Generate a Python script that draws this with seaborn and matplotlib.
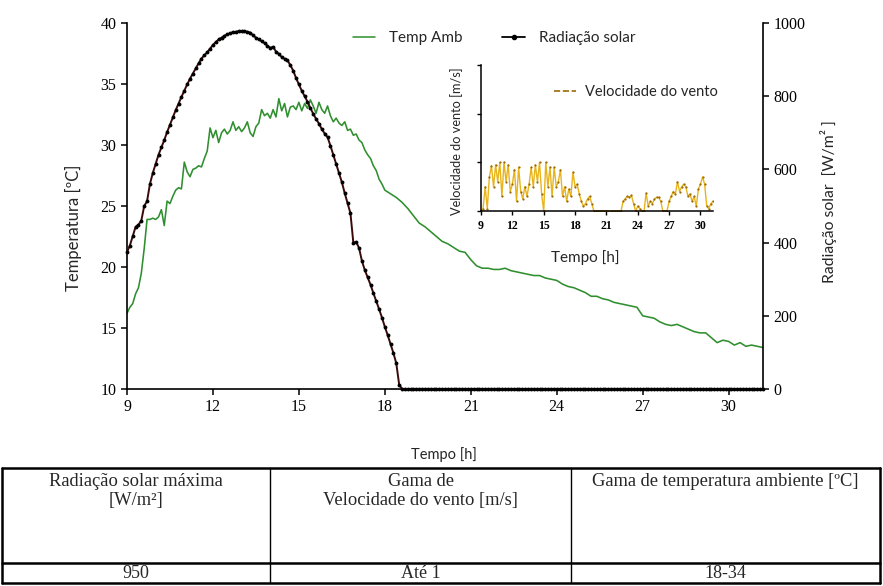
import numpy as np
import pandas as pd
import matplotlib
matplotlib.use('Agg')
import matplotlib.pyplot as plt
from matplotlib.lines import Line2D
import seaborn as sns

# ---------------- data ----------------
# ambient temperature [ºC]: 9.0-17.9 h every 0.1 h, then 18.0-31.2 h every 0.2 h
temp_day = [16.2, 16.7, 17.0, 17.8, 18.3, 19.5, 21.5, 23.9, 23.9, 24.0,
            23.9, 24.1, 24.7, 23.4, 25.4, 25.2, 25.8, 26.3, 26.5, 26.4,
            28.6, 27.8, 27.4, 28.0, 28.1, 28.3, 28.2, 28.9, 29.5, 31.4,
            30.6, 31.2, 30.2, 31.0, 31.3, 30.9, 31.2, 31.9, 31.2, 31.5,
            31.1, 31.4, 31.9, 31.0, 30.7, 31.5, 31.8, 32.9, 32.4, 32.6,
            32.2, 32.9, 32.3, 33.8, 32.8, 33.4, 32.3, 33.1, 33.2, 32.9,
            33.5, 32.8, 33.4, 33.0, 33.7, 33.2, 32.6, 33.5, 32.9, 32.6,
            33.2, 32.4, 31.9, 32.2, 31.8, 31.6, 31.9, 31.2, 31.3, 30.8,
            30.9, 30.4, 30.2, 29.6, 29.2, 28.9, 28.3, 27.9, 27.2, 26.8]
temp_eve = [26.3, 26.0, 25.7, 25.3, 24.8, 24.2, 23.6, 23.3, 22.9, 22.5,
            22.1, 21.9, 21.6, 21.3, 21.2, 20.6, 20.1, 19.9, 19.9, 19.8,
            19.8, 19.9, 19.7, 19.6, 19.5, 19.4, 19.3, 19.3, 19.1, 19.0,
            18.9, 18.6, 18.4, 18.3, 18.1, 17.9, 17.6, 17.6, 17.4, 17.3,
            17.1, 17.0, 16.9, 16.8, 16.7, 16.0, 15.9, 15.8, 15.5, 15.3,
            15.2, 15.3, 15.1, 14.9, 14.7, 14.6, 14.6, 14.2, 13.8, 14.0,
            13.9, 13.6, 13.8, 13.5, 13.6, 13.5, 13.4]

# solar radiation [W/m²]: every 0.1 h from 9.0 h
rad_day = [374, 392, 418, 443, 449, 460, 500, 513, 560, 590,
           615, 640, 660, 680, 702, 722, 742, 762, 780, 798,
           815, 832, 848, 862, 876, 890, 903, 912, 920, 930,
           940, 948, 955, 960, 965, 969, 972, 975, 976, 978,
           977, 978, 976, 974, 966, 960, 955, 950, 945, 938,
           932, 935, 922, 915, 907, 902, 898, 885, 870, 850,
           832, 815, 800, 785, 768, 752, 738, 725, 710, 698,
           688, 665, 640, 615, 590, 565, 535, 508, 480, 400,
           402, 385, 350, 325, 305, 285, 262, 240, 218, 195,
           170, 147, 122, 98, 70, 12]
rad_night = [0, 0, 0, 0, 0, 0, 0, 0, 0, 0,
             0, 0, 0, 0, 0, 0, 0, 0, 0, 0,
             0, 0, 0, 0, 0, 0, 0, 0, 0, 0,
             0, 0, 0, 0, 0, 0, 0, 0, 0, 0,
             0, 0, 0, 0, 0, 0, 0, 0, 0, 0,
             0, 0, 0, 0, 0, 0, 0, 0, 0, 0,
             0, 0, 0, 0, 0, 0, 0, 0, 0, 0,
             0, 0, 0, 0, 0, 0, 0, 0, 0, 0,
             0, 0, 0, 0, 0, 0, 0, 0, 0, 0,
             0, 0, 0, 0, 0, 0, 0, 0, 0, 0,
             0, 0, 0, 0, 0, 0, 0, 0, 0, 0,
             0, 0, 0, 0, 0, 0, 0, 0, 0, 0,
             0, 0, 0, 0, 0, 0, 0]

# wind speed [m/s]: every 0.2 h from 9.0 h
wind = [0.0, 0.05, 0.5, 0.05, 0.7, 0.93, 0.5, 0.95, 0.6, 1.0,
        0.3, 1.0, 0.6, 0.95, 0.4, 0.55, 0.85, 0.2, 0.9, 0.4,
        0.25, 0.5, 0.3, 0.55, 0.9, 0.5, 0.95, 0.6, 1.0, 0.35,
        0.0, 1.0, 0.5, 0.9, 0.3, 0.9, 0.5, 0.6, 0.85, 0.3,
        0.5, 0.2, 0.45, 0.3, 0.8, 0.5, 0.55, 0.35, 0.2, 0.1,
        0.15, 0.25, 0.3, 0.15, 0.0, 0.0, 0.0, 0.0, 0.0, 0.0,
        0.0, 0.0, 0.0, 0.0, 0.0, 0.0, 0.0, 0.0, 0.2, 0.25,
        0.3, 0.28, 0.32, 0.15, 0.0, 0.1, 0.05, 0.0, 0.0, 0.37,
        0.1, 0.2, 0.15, 0.25, 0.28, 0.28, 0.2, 0.0, 0.0, 0.0,
        0.2, 0.3, 0.4, 0.35, 0.6, 0.4, 0.5, 0.55, 0.5, 0.3,
        0.35, 0.2, 0.3, 0.1, 0.45, 0.55, 0.7, 0.55, 0.1, 0.05,
        0.15, 0.2]

x_ticks = [9, 12, 15, 18, 21, 24, 27, 30]
temp_ticks = [10, 15, 20, 25, 30, 35, 40]
rad_ticks = [0, 200, 400, 600, 800, 1000]
wind_ticks = [0, 1, 2, 3]

table_header = ["Radiação solar máxima\n[W/m²]",
                "Gama de\nVelocidade do vento [m/s]",
                "Gama de temperatura ambiente [ºC]"]
table_values = ["950", "Até 1", "18-34"]

# ---------------- build frames ----------------
t_temp = np.concatenate([9.0 + 0.1 * np.arange(len(temp_day)),
                         18.0 + 0.2 * np.arange(len(temp_eve))])
df_temp = pd.DataFrame({'t': t_temp, 'v': temp_day + temp_eve})
rad = rad_day + rad_night
df_rad = pd.DataFrame({'t': 9.0 + 0.1 * np.arange(len(rad)), 'v': rad})
df_wind = pd.DataFrame({'t': 9.0 + 0.2 * np.arange(len(wind)), 'v': wind})

# ---------------- style ----------------
sns.set_style('ticks')
plt.rcParams['font.family'] = ['Lato', 'DejaVu Sans']
SERIF = 'Liberation Serif'
GREEN = '#2f8f2f'
RAD_LINE = '#3a0a0a'
WIND = '#e8b41c'
WIND_DARK = '#9a6a08'

W, H = 883, 586
fig = plt.figure(figsize=(W / 100, H / 100), dpi=100)


def fx(px):
    return px / W


def fy(py):
    return 1 - py / H


# ---------------- main axes ----------------
ax = fig.add_axes([fx(127), fy(389), fx(763) - fx(127), fy(23) - fy(389)])
ax.set_facecolor('none')
ax2 = ax.twinx()

sns.lineplot(data=df_temp, x='t', y='v', ax=ax, color=GREEN, lw=1.15,
             estimator=None, legend=False)
sns.lineplot(data=df_rad, x='t', y='v', ax=ax2, color=RAD_LINE, lw=1.4,
             marker='o', markersize=2.8, markerfacecolor='black',
             markeredgecolor='black', markeredgewidth=0,
             estimator=None, legend=False, clip_on=False)

ax.set_xlim(9, 31.2)
ax.set_ylim(10, 40)
ax2.set_ylim(0, 1000)
ax.set_xticks(x_ticks)
ax.set_yticks(temp_ticks)
ax2.set_yticks(rad_ticks)

for s in ['top', 'right']:
    ax.spines[s].set_visible(False)
for s in ['top', 'left', 'bottom']:
    ax2.spines[s].set_visible(False)
for a in (ax, ax2):
    for s in a.spines.values():
        s.set_linewidth(1.2)
        s.set_color('black')
    a.tick_params(direction='out', length=4, width=1.1, labelsize=11.5,
                  labelfontfamily=SERIF, colors='black')

ax.set_xlabel('Tempo [h]', fontsize=10.5)
ax.xaxis.set_label_coords((444 - 127) / 636, -(447 - 389) / 366)
ax.set_ylabel('Temperatura [ºC]', fontsize=12)
ax.yaxis.set_label_coords((82 - 127) / 636, (389 - 228) / 366)
ax2.set_ylabel('Radiação solar  [W/m² ]', fontsize=11.3)
ax2.yaxis.set_label_coords((820 - 127) / 636, (389 - 202) / 366)

handles = [Line2D([], [], color=GREEN, lw=1.1),
           Line2D([], [], color='black', lw=1.3, marker='o', markersize=3)]
ax2.legend(handles, ['Temp Amb', 'Radiação solar'], loc='center left',
           bbox_to_anchor=(0.345, 0.958), ncol=2, frameon=False,
           fontsize=11, handlelength=1.5, columnspacing=2.6,
           handletextpad=0.9, borderaxespad=0)

# ---------------- inset ----------------
iax = fig.add_axes([fx(481), fy(211), fx(713) - fx(481), fy(65) - fy(211)])
iax.set_facecolor('none')
sns.lineplot(data=df_wind, x='t', y='v', ax=iax, color=WIND, lw=1.0,
             marker='o', markersize=1.6, markerfacecolor=WIND_DARK,
             markeredgecolor=WIND_DARK, markeredgewidth=0,
             estimator=None, legend=False)
iax.set_xlim(9, 31.2)
iax.set_ylim(0, 3)
iax.set_xticks(x_ticks)
iax.set_yticks(wind_ticks)
iax.set_yticklabels([])
for s in ['top', 'right']:
    iax.spines[s].set_visible(False)
for s in iax.spines.values():
    s.set_linewidth(1.1)
    s.set_color('black')
iax.tick_params(direction='out', length=3, width=1, labelsize=8.5,
                labelfontfamily=SERIF, colors='black')
for lab in iax.get_xticklabels():
    lab.set_fontweight('bold')
iax.set_xlabel('Tempo [h]', fontsize=11)
iax.xaxis.set_label_coords((585 - 481) / 232, -(250 - 211) / 146)
iax.set_ylabel('Velocidade do vento [m/s]', fontsize=9.2)
iax.yaxis.set_label_coords((463 - 481) / 232, (211 - 141) / 146)
iax.legend([Line2D([], [], color=WIND_DARK, lw=1.2, ls='--')],
           ['Velocidade do vento'], loc='center left',
           bbox_to_anchor=(0.29, 0.815), frameon=False, fontsize=10.5,
           handlelength=1.5, handletextpad=0.6, borderaxespad=0)

# ---------------- table ----------------
tax = fig.add_axes([0, 0, 1, 1])
tax.set_xlim(0, W)
tax.set_ylim(H, 0)
tax.axis('off')
col_edges = [2, 270, 571, 880]
row_edges = [468, 563, 583]
for yv in row_edges:
    tax.plot([col_edges[0], col_edges[-1]], [yv, yv], color='black', lw=1.8)
for i, xv in enumerate(col_edges):
    lw = 1.8 if i in (0, len(col_edges) - 1) else 1.0
    tax.plot([xv, xv], [row_edges[0], row_edges[-1]], color='black', lw=lw)
for i in range(3):
    xc = (col_edges[i] + col_edges[i + 1]) / 2
    tax.text(xc, 473, table_header[i], ha='center', va='top',
             fontfamily=SERIF, fontsize=13.3, linespacing=1.15)
    tax.text(xc, (row_edges[1] + row_edges[2]) / 2 + 0.5, table_values[i],
             ha='center', va='center', fontfamily=SERIF, fontsize=13)

fig.savefig('out.png', dpi=100)
